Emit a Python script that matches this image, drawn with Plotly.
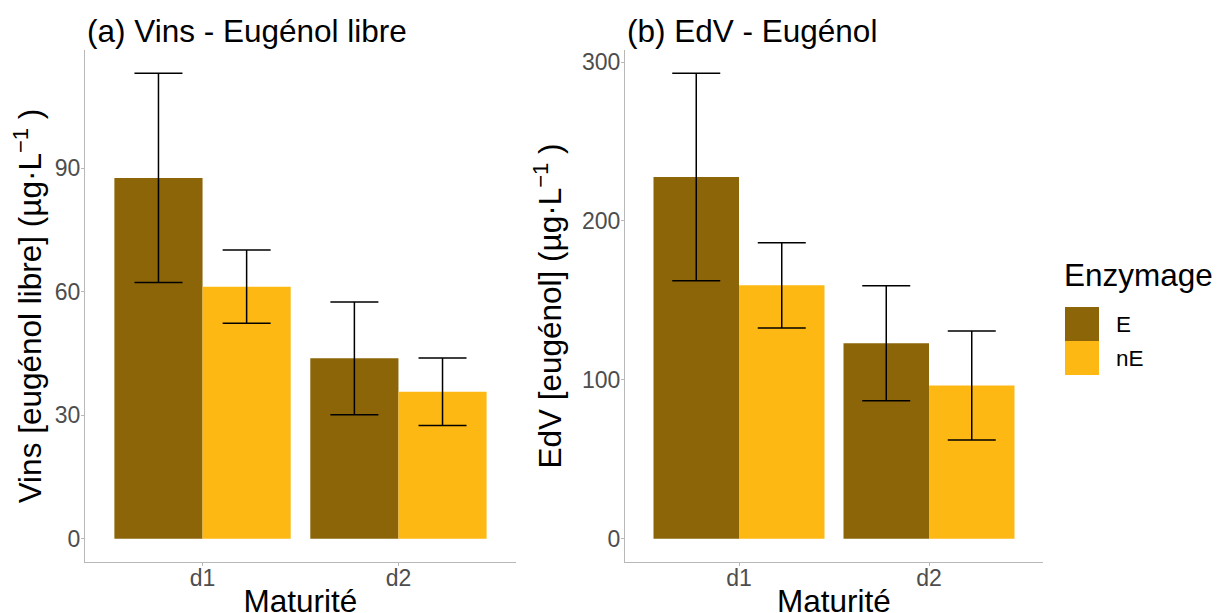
import plotly.graph_objects as go
from plotly.subplots import make_subplots

# Data
maturite = ["d1", "d2"]
enzymage = ["E", "nE"]

vins_mean = {"E": [87.6, 43.8], "nE": [61.2, 35.7]}
vins_err = {"E": [25.4, 13.7], "nE": [8.9, 8.2]}

edv_mean = {"E": [227.7, 123.0], "nE": [159.5, 96.5]}
edv_err = {"E": [65.3, 36.2], "nE": [26.8, 34.3]}

y_ticks_a = [0, 30, 60, 90]
y_ticks_b = [0, 100, 200, 300]

COLORS = {"E": "#8B6508", "nE": "#FDB813"}
FONT = "Liberation Sans, Arial, sans-serif"
W, H = 1220, 613
OFF = 8  # page body margin

fig = make_subplots(rows=1, cols=2)

for col, (means, errs) in enumerate([(vins_mean, vins_err), (edv_mean, edv_err)], start=1):
    for grp in enzymage:
        fig.add_trace(go.Bar(
            x=maturite,
            y=means[grp],
            name=grp,
            marker=dict(color=COLORS[grp], line=dict(width=0)),
            error_y=dict(type="data", array=errs[grp], color="black", thickness=1.5, width=24),
            showlegend=False,
        ), row=1, col=col)


def px_x(v):
    return (v - OFF) / W


def px_y(v):
    return 1 - (v - OFF) / H


TITLE_SIZE = 31.5
axis_line = dict(showline=True, linecolor="#B8B8B8", linewidth=1.2, showgrid=False, zeroline=False,
                 ticks="outside", ticklen=3, tickcolor="#B8B8B8",
                 tickfont=dict(family=FONT, size=23, color="#4D4D4D"))

fig.update_layout(
    width=W, height=H,
    margin=dict(l=0, r=0, t=0, b=0),
    plot_bgcolor="white", paper_bgcolor="white",
    barmode="group", bargap=0.1, bargroupgap=0,
    font=dict(family=FONT),
    xaxis=dict(domain=[px_x(85), px_x(516)], range=[-0.6, 1.6], ticklabelstandoff=-8, **axis_line,
               title=dict(text="Maturité", font=dict(family=FONT, size=TITLE_SIZE, color="black"), standoff=0)),
    xaxis2=dict(domain=[px_x(625), px_x(1043)], range=[-0.6, 1.6], ticklabelstandoff=-8, **axis_line,
                title=dict(text="Maturité", font=dict(family=FONT, size=TITLE_SIZE, color="black"), standoff=0)),
    yaxis=dict(domain=[px_y(562), px_y(50)], range=[-5.65, 118.65], tickvals=y_ticks_a,
               ticklabelstandoff=-4, **axis_line,
               title=dict(text="Vins [eugénol libre] (µg·L<sup>−1</sup> )",
                          font=dict(family=FONT, size=TITLE_SIZE, color="black"), standoff=10)),
    yaxis2=dict(domain=[px_y(562), px_y(50)], range=[-14.65, 307.6], tickvals=y_ticks_b,
                ticklabelstandoff=-4, **axis_line,
                title=dict(text="EdV [eugénol] (µg·L<sup>−1</sup> )",
                           font=dict(family=FONT, size=TITLE_SIZE, color="black"), standoff=10)),
)

# Panel titles
for x0, txt in [(85, "(a) Vins - Eugénol libre"), (625, "(b) EdV - Eugénol")]:
    fig.add_annotation(x=px_x(x0), y=px_y(31), xref="paper", yref="paper", text=txt,
                       showarrow=False, xanchor="left", yanchor="middle",
                       font=dict(family=FONT, size=TITLE_SIZE, color="black"))

# Legend drawn manually (large square keys)
fig.add_annotation(x=px_x(1062), y=px_y(275), xref="paper", yref="paper", text="Enzymage",
                   showarrow=False, xanchor="left", yanchor="middle",
                   font=dict(family=FONT, size=TITLE_SIZE, color="black"))
for i, grp in enumerate(enzymage):
    top = 307 + i * 34
    fig.add_shape(type="rect", xref="paper", yref="paper",
                  x0=px_x(1065), x1=px_x(1099), y0=px_y(top + 34), y1=px_y(top),
                  fillcolor=COLORS[grp], line=dict(width=0))
    fig.add_annotation(x=px_x(1114), y=px_y(top + 17), xref="paper", yref="paper", text=grp,
                       showarrow=False, xanchor="left", yanchor="middle",
                       font=dict(family=FONT, size=22.5, color="black"))

fig.write_html("out.html")
